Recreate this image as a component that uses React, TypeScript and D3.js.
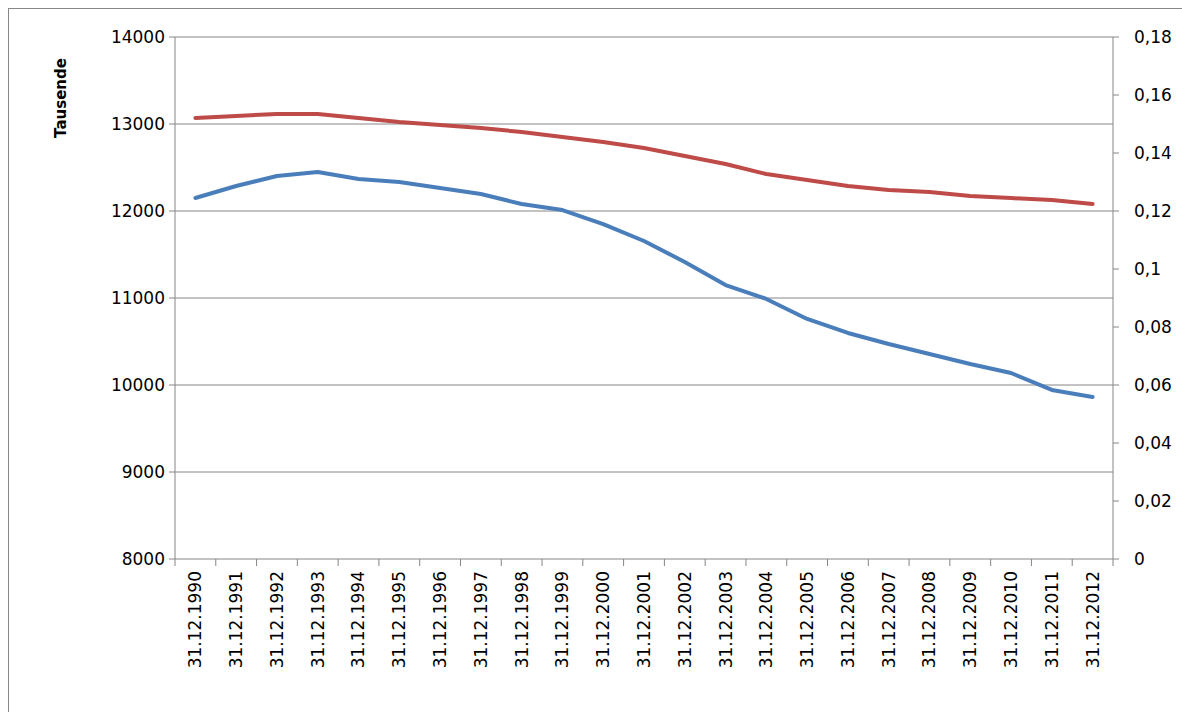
import { useEffect } from 'react';
import * as d3 from 'd3';

const years = d3.range(1990, 2013).map(y => `31.12.${y}`);
const blueValues = [12149, 12287, 12402, 12448, 12368, 12333, 12264, 12195, 12080, 12011, 11850, 11655, 11414, 11149, 10989, 10759, 10598, 10471, 10356, 10241, 10138, 9943, 9862];
const redValues = [13069, 13092, 13115, 13115, 13069, 13023, 12989, 12954, 12908, 12851, 12793, 12724, 12632, 12540, 12425, 12356, 12287, 12241, 12218, 12172, 12149, 12126, 12080];
const leftTicks = [8000, 9000, 10000, 11000, 12000, 13000, 14000];
const rightTicks = [0, 0.02, 0.04, 0.06, 0.08, 0.1, 0.12, 0.14, 0.16, 0.18];

export default function App() {
  useEffect(() => { document.body.style.margin = '0'; }, []);
  const W = 1182, H = 712;
  const m = { left: 175, right: 1113, top: 37, bottom: 559 };
  const x = d3.scaleBand().domain(years).range([m.left, m.right]);
  const y = d3.scaleLinear().domain([8000, 14000]).range([m.bottom, m.top]);
  const yr = d3.scaleLinear().domain([0, 0.18]).range([m.bottom, m.top]);
  const cx = (d: string) => (x(d) as number) + x.bandwidth() / 2;
  const line = d3.line<number>().x((_, i) => cx(years[i])).y(v => y(v));
  const font = '"DejaVu Sans", Verdana, sans-serif';
  const fmt = (v: number) => (v === 0 ? '0' : String(+v.toFixed(2)).replace('.', ','));
  return (
    <svg width={W} height={H} style={{ display: 'block', fontFamily: font }}>
      <rect x={0} y={0} width={W} height={H} fill="#fff" />
      <rect x={8.5} y={8.5} width={W} height={H} fill="none" stroke="#888" />
      {leftTicks.map(t => (
        <g key={t}>
          <line x1={m.left - 6} x2={m.right} y1={y(t)} y2={y(t)} stroke="#868686" strokeWidth={1} />
          <text x={m.left - 10} y={y(t)} dy="0.35em" textAnchor="end" fontSize={17}>{t}</text>
        </g>
      ))}
      {rightTicks.map(t => (
        <g key={t}>
          <line x1={m.right} x2={m.right + 6} y1={yr(t)} y2={yr(t)} stroke="#868686" />
          <text x={m.right + 21} y={yr(t)} dy="0.35em" fontSize={17}>{fmt(t)}</text>
        </g>
      ))}
      <line x1={m.left} x2={m.left} y1={m.top} y2={m.bottom} stroke="#868686" />
      <line x1={m.right} x2={m.right} y1={m.top} y2={m.bottom} stroke="#868686" />
      {years.map(d => (
        <line key={'t' + d} x1={x(d)} x2={x(d)} y1={m.bottom} y2={m.bottom + 7} stroke="#868686" />
      ))}
      <line x1={m.right} x2={m.right} y1={m.bottom} y2={m.bottom + 7} stroke="#868686" />
      {years.map(d => (
        <text key={d} transform={`translate(${cx(d)},${m.bottom + 12}) rotate(-90)`} dy="0.35em" textAnchor="end" fontSize={17}>{d}</text>
      ))}
      <text transform="translate(61,98) rotate(-90)" textAnchor="middle" fontSize={15} fontWeight="bold" dy="0.35em">Tausende</text>
      <path d={line(redValues) || ''} fill="none" stroke="#BE4B48" strokeWidth={4} strokeLinejoin="round" strokeLinecap="round" />
      <path d={line(blueValues) || ''} fill="none" stroke="#4A7EBB" strokeWidth={4} strokeLinejoin="round" strokeLinecap="round" />
    </svg>
  );
}
